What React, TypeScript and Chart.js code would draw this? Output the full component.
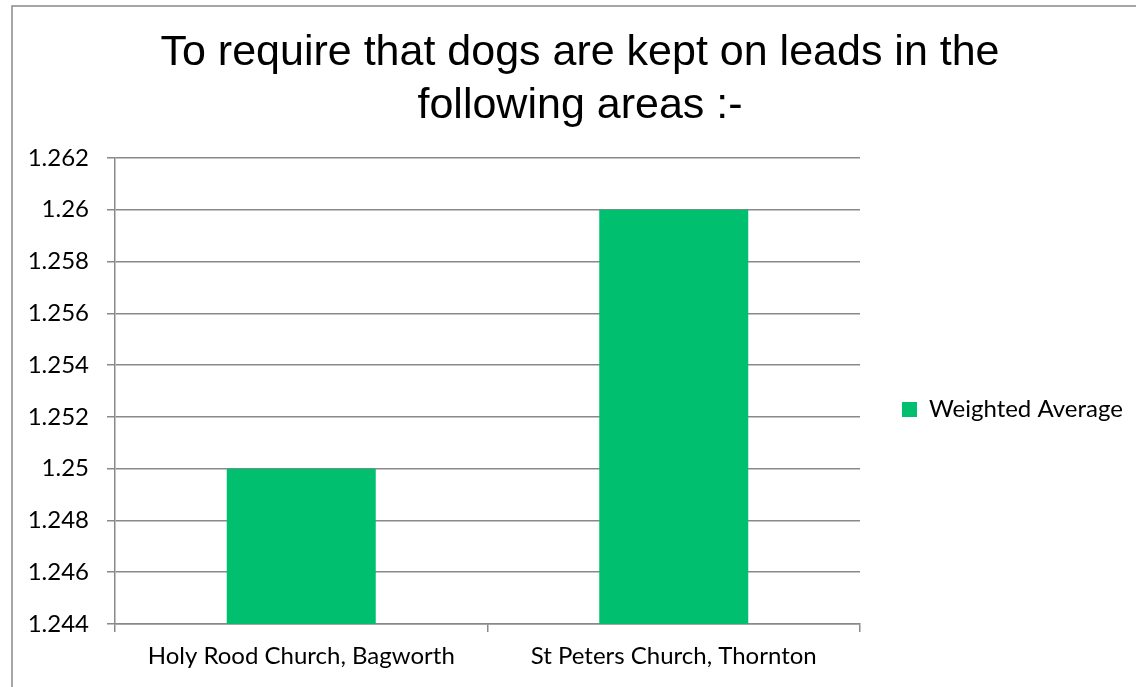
import React, { useEffect, useRef } from "react";
import { Chart, registerables } from "chart.js";

Chart.register(...registerables);

const titleLines = ["To require that dogs are kept on leads in the", "following areas :-"];
const categories = ["Holy Rood Church, Bagworth", "St Peters Church, Thornton"];
const seriesName = "Weighted Average";
const weightedAverage = [1.25, 1.26];
const yMin = 1.244;
const yMax = 1.262;
const yStep = 0.002;

export default function App() {
  const ref = useRef<HTMLCanvasElement>(null);

  useEffect(() => {
    document.body.style.margin = "0";
    const canvas = ref.current;
    if (!canvas) return;
    const grey = "#898989";
    const labelFont = { family: "Lato", size: 24 };

    const framePlugin = {
      id: "frame",
      afterInit(chart: any) {
        const legend = chart.legend;
        if (legend) {
          const orig = legend.fit.bind(legend);
          legend.fit = () => {
            orig();
            legend.width = 276;
          };
        }
      },
      afterLayout(chart: any) {
        const lg = chart.legend;
        if (lg) {
          lg.top = 158;
          lg.bottom = 661;
        }
      },
      beforeDraw(chart: any) {
        const ctx = chart.ctx;
        ctx.save();
        ctx.fillStyle = "#ffffff";
        ctx.fillRect(0, 0, chart.width, chart.height);
        ctx.strokeStyle = grey;
        ctx.lineWidth = 1.5;
        ctx.strokeRect(12, 6, chart.width + 20, chart.height + 20);
        ctx.restore();
      },
    };

    const chart = new Chart(canvas, {
      type: "bar",
      data: {
        labels: categories,
        datasets: [
          {
            label: seriesName,
            data: weightedAverage,
            backgroundColor: "#00BF6F",
            borderWidth: 0,
            barPercentage: 0.4,
            categoryPercentage: 1,
          },
        ],
      },
      options: {
        responsive: false,
        animation: false,
        layout: { padding: { left: 24, right: 0, top: 0, bottom: 0 } },
        plugins: {
          tooltip: { enabled: false },
          title: {
            display: true,
            text: titleLines,
            color: "#000000",
            font: { family: "Liberation Sans", size: 43, weight: "normal", lineHeight: 1.22 },
            padding: { top: 27, bottom: 26 },
          },
          legend: {
            display: true,
            position: "right",
            labels: {
              boxWidth: 15,
              boxHeight: 15,
              padding: 42,
              color: "#000000",
              font: labelFont,
            },
          },
        },
        scales: {
          x: {
            grid: {
              drawOnChartArea: false,
              drawTicks: true,
              tickLength: 8,
              color: grey,
              lineWidth: 1.5,
              offset: true,
            },
            border: { color: grey, width: 1.5 },
            ticks: {
              color: "#000000",
              font: labelFont,
              padding: 10,
              maxRotation: 0,
              autoSkip: false,
            },
            afterFit(scale: any) {
              scale.height = 63;
            },
          },
          y: {
            min: yMin,
            max: yMax,
            grid: { color: grey, lineWidth: 1.5, tickLength: 8, drawTicks: true },
            border: { color: grey, width: 1.5 },
            ticks: {
              stepSize: yStep,
              color: "#000000",
              font: labelFont,
              padding: 18,
              callback: (v: any) => String(parseFloat(Number(v).toFixed(3))),
            },
            afterFit(scale: any) {
              scale.width = 91;
            },
          },
        },
      },
      plugins: [framePlugin],
    });

    return () => chart.destroy();
  }, []);

  return <canvas ref={ref} width={1136} height={687} style={{ display: "block" }} />;
}
